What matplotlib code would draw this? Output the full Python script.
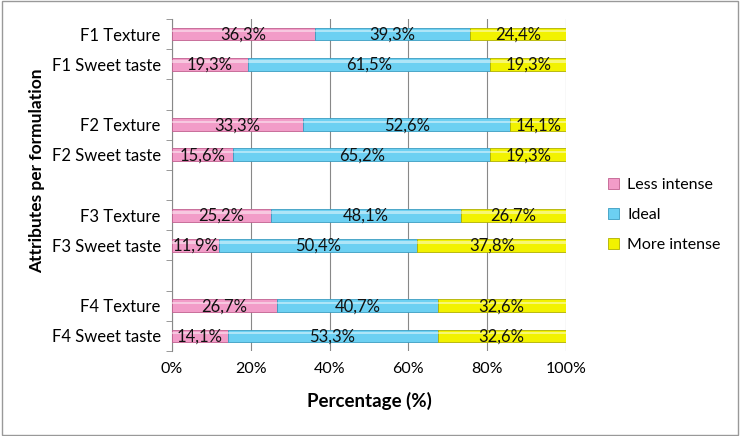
import matplotlib.pyplot as plt
import numpy as np

labels = ["F1 Texture", "F1 Sweet taste", "", "F2 Texture", "F2 Sweet taste", "",
          "F3 Texture", "F3 Sweet taste", "", "F4 Texture", "F4 Sweet taste"]
less = [36.3, 19.3, 0, 33.3, 15.6, 0, 25.2, 11.9, 0, 26.7, 14.1]
ideal = [39.3, 61.5, 0, 52.6, 65.2, 0, 48.1, 50.4, 0, 40.7, 53.3]
more = [24.4, 19.3, 0, 14.1, 19.3, 0, 26.7, 37.8, 0, 32.6, 32.6]
series = ["Less intense", "Ideal", "More intense"]
colors = ["#f29cc8", "#6cd0f2", "#f2f200"]
edges = ["#c0608f", "#3a9cc0", "#b0b000"]

plt.rcParams['font.family'] = ['Lato', 'DejaVu Sans']

fig = plt.figure(figsize=(7.4, 4.36), dpi=100)
ax = fig.add_axes([0.2324, 0.195, 0.5324, 0.7614])

y = np.arange(len(labels))
h = 0.42
left = np.zeros(len(labels))
for vals, name, c, ec in zip([less, ideal, more], series, colors, edges):
    vals = np.array(vals)
    mask = vals > 0
    ax.barh(y[mask], vals[mask], height=h, left=left[mask], color=c,
            edgecolor=ec, linewidth=0.6, label=name, zorder=3)
    # light highlight for the bevel look
    ax.barh(y[mask] - h * 0.22, vals[mask], height=h * 0.18, left=left[mask],
            color="white", alpha=0.45, linewidth=0, zorder=4)
    for yi, v, l in zip(y[mask], vals[mask], left[mask]):
        ax.text(l + v / 2, yi + 0.02, f"{v:.1f}%".replace(".", ","),
                ha="center", va="center", fontsize=12, color="#111111", zorder=5)
    left = left + vals

ax.set_ylim(len(labels) - 0.5, -0.5)
ax.set_xlim(0, 100)
ax.set_xticks(np.arange(0, 101, 20))
ax.set_xticklabels([f"{v}%" for v in range(0, 101, 20)], fontsize=11.5)
ax.set_yticks(y)
ax.set_yticklabels(labels, fontsize=12)
ax.set_yticks(np.arange(-0.5, len(labels), 1), minor=True)
ax.tick_params(axis="y", which="major", length=0, pad=8)
ax.tick_params(axis="y", which="minor", length=4, color="#888888")
ax.tick_params(axis="x", length=0, pad=8)
ax.grid(axis="x", color="#888888", linewidth=0.8, zorder=0)
for s in ["top", "right", "bottom"]:
    ax.spines[s].set_visible(False)
ax.spines["left"].set_color("#888888")

ax.set_xlabel("Percentage (%)", fontsize=13.5, fontweight="bold")
ax.set_ylabel("Attributes per formulation", fontsize=12.5, fontweight="bold")
ax.xaxis.set_label_coords(0.5, -0.123)
ax.yaxis.set_label_coords(-0.322, 0.542)

ax.legend(loc="center left", bbox_to_anchor=(1.07, 0.41), frameon=False,
          fontsize=11.5, handlelength=0.7, handleheight=0.7, labelspacing=1.0,
          handletextpad=0.5)

fig.patches.append(plt.Rectangle((0.003, 0.003), 0.994, 0.994, transform=fig.transFigure,
                                 fill=False, edgecolor="#999999", linewidth=1))

fig.savefig("out.png", dpi=100)
